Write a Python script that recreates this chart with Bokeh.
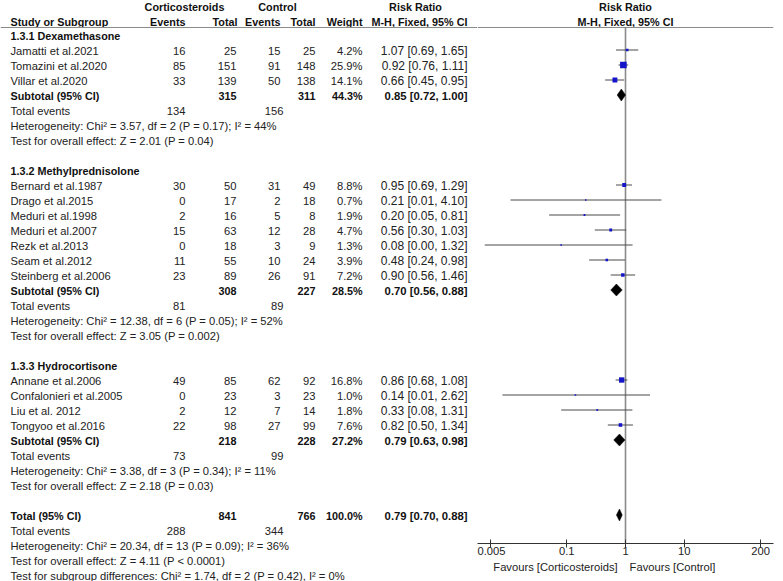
import math
from bokeh.plotting import figure
from bokeh.models import Range1d, Span, FixedTicker, LogAxis, ColumnDataSource
from bokeh.layouts import row
from bokeh.embed import file_html
from bokeh.resources import INLINE
from bokeh.core.properties import value

# ---------------- data ----------------
group_names = ["1.3.1 Dexamethasone", "1.3.2 Methylprednisolone", "1.3.3 Hydrocortisone"]
study_group = [0, 0, 0, 1, 1, 1, 1, 1, 1, 1, 2, 2, 2, 2]
studies = ["Jamatti et al.2021", "Tomazini et al.2020", "Villar et al.2020",
           "Bernard et al.1987", "Drago et al.2015", "Meduri et al.1998", "Meduri et al.2007",
           "Rezk et al.2013", "Seam et al.2012", "Steinberg et al.2006",
           "Annane et al.2006", "Confalonieri et al.2005", "Liu et al. 2012", "Tongyoo et al.2016"]
cort_events = [16, 85, 33, 30, 0, 2, 15, 0, 11, 23, 49, 0, 2, 22]
cort_total = [25, 151, 139, 50, 17, 16, 63, 18, 55, 89, 85, 23, 12, 98]
ctrl_events = [15, 91, 50, 31, 2, 5, 12, 3, 10, 26, 62, 3, 7, 27]
ctrl_total = [25, 148, 138, 49, 18, 8, 28, 9, 24, 91, 92, 23, 14, 99]
weight = [4.2, 25.9, 14.1, 8.8, 0.7, 1.9, 4.7, 1.3, 3.9, 7.2, 16.8, 1.0, 1.8, 7.6]
rr = [1.07, 0.92, 0.66, 0.95, 0.21, 0.20, 0.56, 0.08, 0.48, 0.90, 0.86, 0.14, 0.33, 0.82]
rr_lo = [0.69, 0.76, 0.45, 0.69, 0.011, 0.05, 0.30, 0.004, 0.24, 0.56, 0.68, 0.008, 0.08, 0.50]
rr_hi = [1.65, 1.11, 0.95, 1.29, 4.10, 0.81, 1.03, 1.32, 0.98, 1.46, 1.08, 2.62, 1.31, 1.34]

sub_cort_total = [315, 308, 218]
sub_ctrl_total = [311, 227, 228]
sub_weight = [44.3, 28.5, 27.2]
sub_rr = [0.85, 0.70, 0.79]
sub_lo = [0.72, 0.56, 0.63]
sub_hi = [1.00, 0.88, 0.98]
sub_cort_events = [134, 81, 73]
sub_ctrl_events = [156, 89, 99]
sub_chi2 = ["3.57", "12.38", "3.38"]
sub_df = [2, 6, 3]
sub_chi_p = ["0.17", "0.05", "0.34"]
sub_i2 = [44, 52, 11]
sub_z = ["2.01", "3.05", "2.18"]
sub_z_p = ["= 0.04", "= 0.002", "= 0.03"]

tot_cort_total, tot_ctrl_total, tot_weight = 841, 766, 100.0
tot_rr, tot_lo, tot_hi = 0.79, 0.70, 0.88
tot_cort_events, tot_ctrl_events = 288, 344
tot_chi2, tot_df, tot_chi_p, tot_i2 = "20.34", 13, "0.09", 36
tot_z, tot_z_p = "4.11", "< 0.0001"
sg_chi2, sg_df, sg_p, sg_i2 = "1.74", 2, "0.42", 0

axis_ticks = [0.005, 0.1, 1, 10, 200]
axis_tick_labels = ["0.005", "0.1", "1", "10", "200"]
favours_left = "Favours [Corticosteroids]"
favours_right = "Favours [Control]"

# ---------------- layout constants (pixels) ----------------
FONT = "Liberation Sans"
W, H = 783, 581
XSPLIT = 477        # forest frame left edge
XEND = 773          # forest axis right end
AXIS_Y = 543        # forest axis line
HEAD_LINE_Y = 27
LOG_SPAN = 2.522
DEC_PX = (XEND - XSPLIT) / (2 * LOG_SPAN)
ROW0, ROWH = 35.5, 15.0
MARK_DY = -1.0
DIA_H = 6.0
FAV_L_CENTER_PX = -70.0   # relative to the line of no effect
FAV_R_CENTER_PX = 47.0

C_NAME = 10
C_CEV, C_CTOT, C_KEV, C_KTOT, C_W, C_RR = 185, 236, 280, 315, 362, 467
C_TEV_C, C_TEV_K = 185, 283

TXT = "#222222"
BTXT = "#111111"
GRAY = "#8a8a8a"
FS = {("n", False): "11.2px", ("n", True): "10.8px", ("rr", False): "12px", ("rr", True): "11.3px"}

def rowy(r):
    return ROW0 + ROWH * r

texts = {}
def add(x, y, t, align="left", bold=False, kind="n"):
    d = texts.setdefault((align, bold, kind), {"x": [], "y": [], "t": []})
    d["x"].append(x); d["y"].append(y); d["t"].append(t)

# headers
add(184, 6, "Corticosteroids", "center", True)
add(277, 6, "Control", "center", True)
add(415, 6, "Risk Ratio", "center", True)
add(C_NAME, 21, "Study or Subgroup", "left", True)
add(C_CEV, 21, "Events", "right", True)
add(C_CTOT + 1, 21, "Total", "right", True)
add(C_KEV, 21, "Events", "right", True)
add(C_KTOT, 21, "Total", "right", True)
add(C_W, 21, "Weight", "right", True)
add(C_RR, 21, "M-H, Fixed, 95% CI", "right", True)

def rrtxt(e, l, h):
    return f"{e:.2f} [{l:.2f}, {h:.2f}]"

forest = {"x": [], "lo": [], "hi": [], "y": [], "size": []}
diam = {"xs": [], "ys": []}

r = 0
for g in range(3):
    add(C_NAME, rowy(r), group_names[g], "left", True)
    r += 1
    for i, s in enumerate(studies):
        if study_group[i] != g:
            continue
        y = rowy(r)
        add(C_NAME, y, s)
        add(C_CEV, y, str(cort_events[i]), "right")
        add(C_CTOT, y, str(cort_total[i]), "right")
        add(C_KEV, y, str(ctrl_events[i]), "right")
        add(C_KTOT, y, str(ctrl_total[i]), "right")
        add(C_W, y, f"{weight[i]:.1f}%", "right")
        add(C_RR, y, rrtxt(rr[i], rr_lo[i], rr_hi[i]), "right", False, "rr")
        forest["x"].append(rr[i]); forest["lo"].append(rr_lo[i]); forest["hi"].append(rr_hi[i])
        forest["y"].append(y + MARK_DY)
        forest["size"].append(max(1.5, 1.3 * math.sqrt(weight[i])))
        r += 1
    y = rowy(r)
    add(C_NAME, y, "Subtotal (95% CI)", "left", True)
    add(C_CTOT, y, str(sub_cort_total[g]), "right", True)
    add(C_KTOT, y, str(sub_ctrl_total[g]), "right", True)
    add(C_W, y, f"{sub_weight[g]:.1f}%", "right", True)
    add(C_RR, y, rrtxt(sub_rr[g], sub_lo[g], sub_hi[g]), "right", True, "rr")
    ym = y + MARK_DY
    diam["xs"].append([sub_lo[g], sub_rr[g], sub_hi[g], sub_rr[g]])
    diam["ys"].append([ym, ym - DIA_H, ym, ym + DIA_H])
    r += 1
    y = rowy(r)
    add(C_NAME, y, "Total events")
    add(C_TEV_C, y, str(sub_cort_events[g]), "right")
    add(C_TEV_K, y, str(sub_ctrl_events[g]), "right")
    r += 1
    add(C_NAME, rowy(r), f"Heterogeneity: Chi\u00b2 = {sub_chi2[g]}, df = {sub_df[g]} (P = {sub_chi_p[g]}); I\u00b2 = {sub_i2[g]}%")
    r += 1
    add(C_NAME, rowy(r), f"Test for overall effect: Z = {sub_z[g]} (P {sub_z_p[g]})")
    r += 2

y = rowy(r)
add(C_NAME, y, "Total (95% CI)", "left", True)
add(C_CTOT, y, str(tot_cort_total), "right", True)
add(C_KTOT, y, str(tot_ctrl_total), "right", True)
add(C_W, y, f"{tot_weight:.1f}%", "right", True)
add(C_RR, y, rrtxt(tot_rr, tot_lo, tot_hi), "right", True, "rr")
ym = y + MARK_DY
diam["xs"].append([tot_lo, tot_rr, tot_hi, tot_rr])
diam["ys"].append([ym, ym - DIA_H, ym, ym + DIA_H])
r += 1
y = rowy(r)
add(C_NAME, y, "Total events")
add(C_TEV_C, y, str(tot_cort_events), "right")
add(C_TEV_K, y, str(tot_ctrl_events), "right")
r += 1
add(C_NAME, rowy(r), f"Heterogeneity: Chi\u00b2 = {tot_chi2}, df = {tot_df} (P = {tot_chi_p}); I\u00b2 = {tot_i2}%")
r += 1
add(C_NAME, rowy(r), f"Test for overall effect: Z = {tot_z} (P {tot_z_p})")
r += 1
add(C_NAME, rowy(r), f"Test for subgroup differences: Chi\u00b2 = {sg_chi2}, df = {sg_df} (P = {sg_p}), I\u00b2 = {sg_i2}%")

# ---------------- left (table) figure ----------------
left = figure(width=XSPLIT, height=H, x_range=Range1d(0, XSPLIT),
              y_range=Range1d(H, 0), output_backend="svg", toolbar_location=None,
              x_axis_location=None, y_axis_location=None, min_border=0)
left.frame_align = False
left.grid.visible = False
left.outline_line_color = None
left.add_layout(Span(location=HEAD_LINE_Y, dimension="width", line_color=GRAY, line_width=1))

for (align, bold, kind), d in texts.items():
    left.text(x="x", y="y", text="t", source=ColumnDataSource(d),
              text_font=value(FONT), text_font_size=FS[(kind, bold)],
              text_font_style="bold" if bold else "normal",
              text_align=align, text_baseline="middle",
              text_color=BTXT if bold else TXT)

# ---------------- right (forest) figure ----------------
right = figure(width=W - XSPLIT, height=H, x_axis_type="log",
               x_range=Range1d(10 ** -LOG_SPAN, 10 ** LOG_SPAN), y_range=Range1d(AXIS_Y, 0),
               output_backend="svg", toolbar_location=None, y_axis_location=None,
               min_border_left=0, min_border_top=0, min_border_right=W - XEND,
               min_border_bottom=H - AXIS_Y)
right.frame_align = False
right.grid.visible = False
right.outline_line_color = None
right.add_layout(Span(location=HEAD_LINE_Y, dimension="width", line_color=GRAY, line_width=1))

hdr = ColumnDataSource({"x": [1, 1], "y": [6, 21], "t": ["Risk Ratio", "M-H, Fixed, 95% CI"]})
right.text(x="x", y="y", text="t", source=hdr, text_font=value(FONT), text_font_size=FS[("n", True)],
           text_font_style="bold", text_align="center", text_baseline="middle", text_color=BTXT)

right.segment(x0=[1], y0=[HEAD_LINE_Y], x1=[1], y1=[AXIS_Y], line_color=GRAY, line_width=1.6)

fsrc = ColumnDataSource(forest)
right.segment(x0="lo", y0="y", x1="hi", y1="y", source=fsrc, line_color="#4a4a4a", line_width=1)
right.scatter(x="x", y="y", size="size", marker="square", source=fsrc,
              fill_color="#1414c8", line_color=None)
right.patches(xs="xs", ys="ys", source=ColumnDataSource(diam), fill_color="black", line_color="black",
              line_width=0.5)

ax = right.xaxis[0]
ax.ticker = FixedTicker(ticks=axis_ticks)
ax.major_label_overrides = {t: l for t, l in zip(axis_ticks, axis_tick_labels)}
ax.major_tick_in = 4
ax.major_tick_out = 4
ax.minor_tick_line_color = None
ax.axis_line_color = "#333333"
ax.major_tick_line_color = "#333333"
ax.major_label_standoff = -1
ax.major_label_text_font = FONT
ax.major_label_text_font_size = FS[("n", False)]
ax.major_label_text_color = TXT

# second (label-only) axis carrying the "Favours" captions
fav_ticks = [10 ** (FAV_L_CENTER_PX / DEC_PX), 10 ** (FAV_R_CENTER_PX / DEC_PX)]
fav_axis = LogAxis(ticker=FixedTicker(ticks=fav_ticks),
                   major_label_overrides={fav_ticks[0]: favours_left, fav_ticks[1]: favours_right},
                   axis_line_color=None, major_tick_line_color=None, minor_tick_line_color=None,
                   major_tick_out=0, major_tick_in=0, major_label_standoff=3,
                   major_label_text_font=FONT, major_label_text_font_size=FS[("n", False)],
                   major_label_text_color=TXT)
right.add_layout(fav_axis, "below")

layout = row(left, right, spacing=0)
open("out.html", "w").write(file_html(layout, INLINE))
